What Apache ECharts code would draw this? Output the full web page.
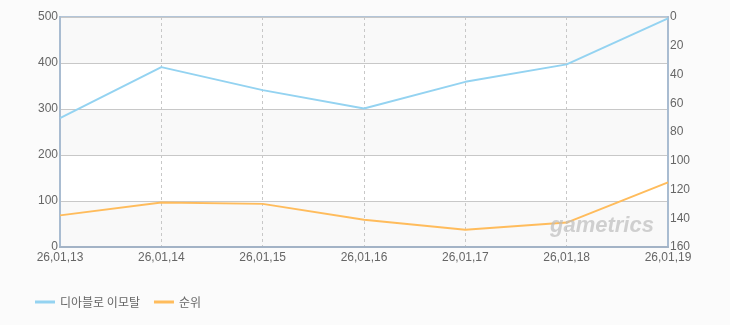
<!DOCTYPE html>
<html>
<head>
<meta charset="utf-8">
<script src="https://cdn.jsdelivr.net/npm/echarts@6/dist/echarts.min.js"></script>
<style>
html,body{margin:0;padding:0;background:#fbfbfb;}
#c{width:730px;height:325px;}
</style>
</head>
<body>
<div id="c"></div>
<script>
const categories = ['26,01,13','26,01,14','26,01,15','26,01,16','26,01,17','26,01,18','26,01,19'];
const seriesNames = ['디아블로 이모탈','순위'];
const shareValues = [280, 391, 341, 301, 359, 397, 497];
const rankValues = [138, 129, 130, 141, 148, 143, 115];

const fontFam = '"Liberation Sans", "Noto Sans CJK KR", sans-serif';
const chart = echarts.init(document.getElementById('c'));
chart.setOption({
  backgroundColor: '#fbfbfb',
  animation: false,
  textStyle: { fontFamily: fontFam },
  grid: { left: 60, right: 62, top: 17, bottom: 78, show: true, borderColor: '#b3c5d8', borderWidth: 2, backgroundColor: 'transparent' },
  legend: {
    left: 30, top: 291,
    icon: 'rect', itemWidth: 20, itemHeight: 3, itemGap: 14,
    textStyle: { color: '#666', fontSize: 12, fontFamily: '"Noto Sans CJK KR", sans-serif' },
    data: seriesNames
  },
  xAxis: {
    type: 'category', data: categories, boundaryGap: false,
    axisLine: { lineStyle: { color: '#a3b3c6', width: 2 } },
    axisTick: { show: false },
    axisLabel: { color: '#666', fontSize: 12, margin: 5, fontFamily: fontFam },
    splitLine: { show: true, lineStyle: { color: '#c8c8c8', type: [3, 3] } }
  },
  yAxis: [{
    type: 'value', min: 0, max: 500, interval: 100,
    axisLine: { show: true, lineStyle: { color: '#a9bcd1', width: 2 } },
    axisTick: { show: false },
    axisLabel: { color: '#666', fontSize: 12, margin: 2, fontFamily: fontFam },
    splitLine: { lineStyle: { color: '#c8c8c8' } },
    splitArea: { show: true, areaStyle: { color: ['#f9f9f9', '#ffffff'] } }
  }, {
    type: 'value', min: 0, max: 160, interval: 20, inverse: true,
    axisLine: { show: true, lineStyle: { color: '#a9bcd1', width: 2 } },
    axisTick: { show: false },
    axisLabel: { color: '#666', fontSize: 12, margin: 2, fontFamily: fontFam },
    splitLine: { show: false }
  }],
  graphic: [{
    type: 'text', left: 550, top: 215, silent: true, z: 100,
    style: { text: 'gametrics', fontSize: 22, fontStyle: 'italic', fontWeight: 'bold', fill: 'rgba(190,190,190,0.7)', fontFamily: '"Liberation Sans", sans-serif' }
  }],
  series: [{
    name: seriesNames[0], type: 'line', data: shareValues, yAxisIndex: 0,
    symbol: 'none', lineStyle: { color: '#94d3f1', width: 2 }, itemStyle: { color: '#94d3f1' }
  }, {
    name: seriesNames[1], type: 'line', data: rankValues, yAxisIndex: 1,
    symbol: 'none', lineStyle: { color: '#ffbc5c', width: 2 }, itemStyle: { color: '#ffbc5c' }
  }]
});
</script>
</body>
</html>
